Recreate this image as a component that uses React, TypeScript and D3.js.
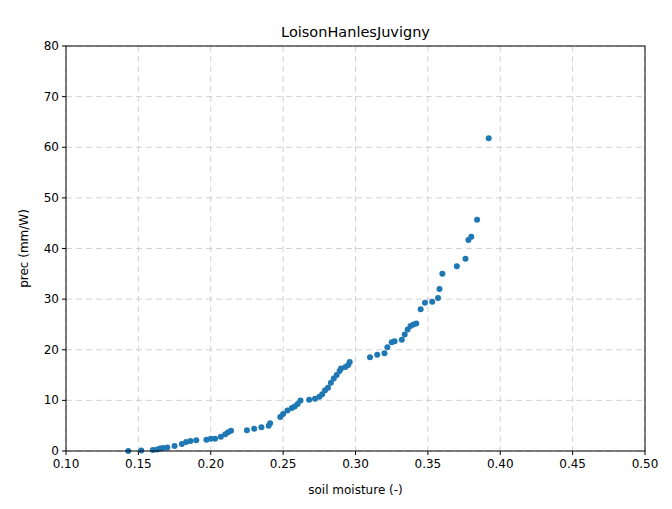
import React from 'react';
import * as d3 from 'd3';

const soilMoisture = [0.143, 0.152, 0.16, 0.163, 0.165, 0.167, 0.17, 0.175, 0.18, 0.183, 0.186, 0.19, 0.197, 0.2, 0.203, 0.207, 0.21, 0.212, 0.214, 0.225, 0.23, 0.235, 0.24, 0.241, 0.248, 0.25, 0.253, 0.256, 0.258, 0.26, 0.262, 0.268, 0.272, 0.275, 0.277, 0.279, 0.281, 0.283, 0.285, 0.287, 0.289, 0.29, 0.293, 0.295, 0.296, 0.31, 0.315, 0.32, 0.322, 0.325, 0.327, 0.332, 0.334, 0.336, 0.338, 0.34, 0.342, 0.345, 0.348, 0.353, 0.357, 0.358, 0.36, 0.37, 0.376, 0.378, 0.38, 0.384, 0.392];
const prec = [0, 0.1, 0.2, 0.3, 0.5, 0.6, 0.7, 1.0, 1.4, 1.8, 2.0, 2.1, 2.2, 2.4, 2.4, 2.8, 3.3, 3.7, 4.0, 4.1, 4.4, 4.7, 5.0, 5.5, 6.7, 7.3, 8.0, 8.5, 8.8, 9.3, 10.0, 10.1, 10.3, 10.7, 11.2, 12.0, 12.5, 13.5, 14.3, 15.0, 15.8, 16.3, 16.6, 17.0, 17.6, 18.5, 19.0, 19.3, 20.5, 21.5, 21.7, 22.0, 23.0, 24.0, 24.7, 25.0, 25.2, 28.0, 29.3, 29.5, 30.2, 32.0, 35.0, 36.5, 38.0, 41.7, 42.3, 45.7, 61.8];
const xTicks = [0.1, 0.15, 0.2, 0.25, 0.3, 0.35, 0.4, 0.45, 0.5];
const yTicks = [0, 10, 20, 30, 40, 50, 60, 70, 80];

export default function App() {
  const W = 672, H = 509;
  const L = 66, R = 645, T = 46, B = 451;
  const x = d3.scaleLinear().domain([0.1, 0.5]).range([L, R]);
  const y = d3.scaleLinear().domain([0, 80]).range([B, T]);
  const font = 'DejaVu Sans, sans-serif';
  return (
    <svg width={W} height={H} style={{ position: 'absolute', left: 0, top: 0, background: '#fff' }} fontFamily={font}>
      {xTicks.map(t => (
        <g key={'x' + t}>
          <line x1={x(t)} x2={x(t)} y1={T} y2={B} stroke="#b0b0b0" strokeDasharray="6,4" strokeWidth={0.8} opacity={0.7} />
          <line x1={x(t)} x2={x(t)} y1={B} y2={B + 4} stroke="#000" />
          <text x={x(t)} y={B + 17} textAnchor="middle" fontSize={12}>{t.toFixed(2)}</text>
        </g>
      ))}
      {yTicks.map(t => (
        <g key={'y' + t}>
          <line x1={L} x2={R} y1={y(t)} y2={y(t)} stroke="#b0b0b0" strokeDasharray="6,4" strokeWidth={0.8} opacity={0.7} />
          <line x1={L - 4} x2={L} y1={y(t)} y2={y(t)} stroke="#000" />
          <text x={L - 7} y={y(t) + 4} textAnchor="end" fontSize={12}>{t}</text>
        </g>
      ))}
      {soilMoisture.map((v, i) => (
        <circle key={i} cx={x(v)} cy={y(prec[i])} r={3} fill="#1f77b4" />
      ))}
      <rect x={L} y={T} width={R - L} height={B - T} fill="none" stroke="#000" strokeWidth={1} />
      <text x={(L + R) / 2} y={T - 9} textAnchor="middle" fontSize={14.5}>LoisonHanlesJuvigny</text>
      <text x={(L + R) / 2} y={B + 43} textAnchor="middle" fontSize={12}>soil moisture (-)</text>
      <text transform={`translate(${L - 38},${(T + B) / 2}) rotate(-90)`} textAnchor="middle" fontSize={12}>prec (mm/W)</text>
    </svg>
  );
}
